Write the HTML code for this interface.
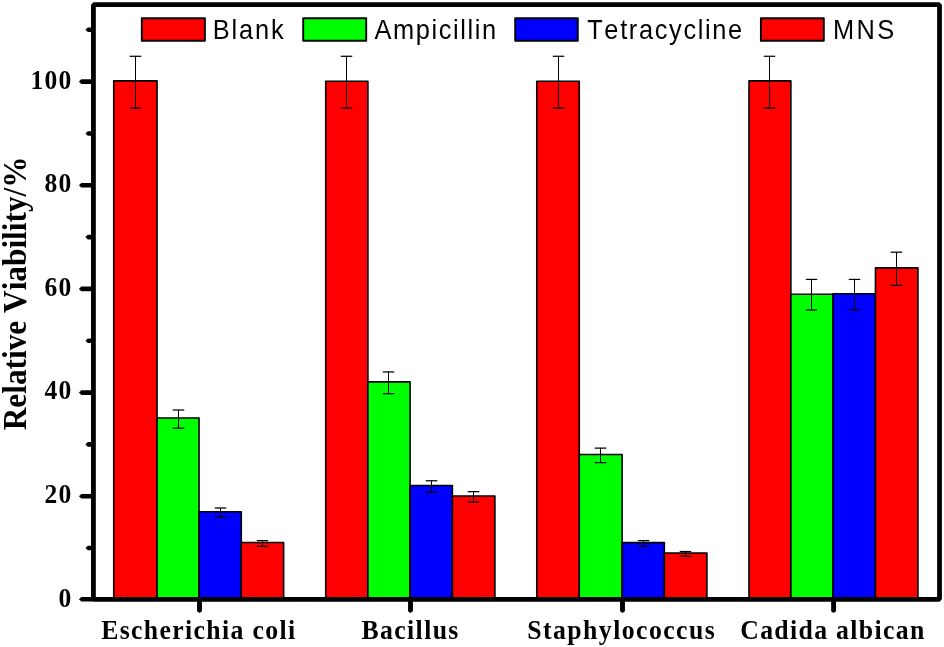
<!DOCTYPE html>
<html><head><meta charset="utf-8"><style>
html,body{margin:0;padding:0;background:#fff;}
svg{display:block;}
.txt{opacity:0.999;}
text{font-kerning:none;}
.tl{font-family:"Liberation Serif",serif;font-weight:bold;font-size:27.5px;}
.cl{font-family:"Liberation Serif",serif;font-weight:bold;font-size:28px;}
.yt{font-family:"Liberation Serif",serif;font-weight:bold;font-size:33px;}
.lg{font-family:"Liberation Sans",sans-serif;font-size:27px;}
</style></head><body>
<svg width="944" height="647" viewBox="0 0 944 647">
<rect x="113.74" y="80.90" width="43.31" height="518.40" fill="#ff0000" stroke="#000" stroke-width="1.6" stroke-linejoin="round"/>
<rect x="157.05" y="417.94" width="41.98" height="181.36" fill="#00ff00" stroke="#000" stroke-width="1.6" stroke-linejoin="round"/>
<rect x="199.03" y="511.80" width="42.24" height="87.50" fill="#0000ff" stroke="#000" stroke-width="1.6" stroke-linejoin="round"/>
<rect x="241.27" y="542.44" width="42.37" height="56.86" fill="#ff0000" stroke="#000" stroke-width="1.6" stroke-linejoin="round"/>
<rect x="325.72" y="81.30" width="42.18" height="518.00" fill="#ff0000" stroke="#000" stroke-width="1.6" stroke-linejoin="round"/>
<rect x="367.90" y="381.91" width="42.16" height="217.39" fill="#00ff00" stroke="#000" stroke-width="1.6" stroke-linejoin="round"/>
<rect x="410.06" y="485.57" width="42.32" height="113.73" fill="#0000ff" stroke="#000" stroke-width="1.6" stroke-linejoin="round"/>
<rect x="452.38" y="495.94" width="42.52" height="103.36" fill="#ff0000" stroke="#000" stroke-width="1.6" stroke-linejoin="round"/>
<rect x="536.78" y="81.30" width="42.48" height="518.00" fill="#ff0000" stroke="#000" stroke-width="1.6" stroke-linejoin="round"/>
<rect x="579.26" y="454.48" width="42.84" height="144.82" fill="#00ff00" stroke="#000" stroke-width="1.6" stroke-linejoin="round"/>
<rect x="622.10" y="542.59" width="42.24" height="56.71" fill="#0000ff" stroke="#000" stroke-width="1.6" stroke-linejoin="round"/>
<rect x="664.34" y="552.95" width="42.56" height="46.35" fill="#ff0000" stroke="#000" stroke-width="1.6" stroke-linejoin="round"/>
<rect x="749.00" y="80.90" width="41.87" height="518.40" fill="#ff0000" stroke="#000" stroke-width="1.6" stroke-linejoin="round"/>
<rect x="790.87" y="294.29" width="42.16" height="305.01" fill="#00ff00" stroke="#000" stroke-width="1.6" stroke-linejoin="round"/>
<rect x="833.03" y="293.80" width="42.43" height="305.50" fill="#0000ff" stroke="#000" stroke-width="1.6" stroke-linejoin="round"/>
<rect x="875.46" y="267.85" width="42.47" height="331.45" fill="#ff0000" stroke="#000" stroke-width="1.6" stroke-linejoin="round"/>
<line x1="135.50" y1="56.28" x2="135.50" y2="108.11" stroke="#000" stroke-width="1.0"/>
<line x1="129.75" y1="56.28" x2="141.25" y2="56.28" stroke="#000" stroke-width="1.25"/>
<line x1="129.75" y1="108.11" x2="141.25" y2="108.11" stroke="#000" stroke-width="1.25"/>
<line x1="178.50" y1="410.02" x2="178.50" y2="428.17" stroke="#000" stroke-width="1.0"/>
<line x1="172.75" y1="410.02" x2="184.25" y2="410.02" stroke="#000" stroke-width="1.25"/>
<line x1="172.75" y1="428.17" x2="184.25" y2="428.17" stroke="#000" stroke-width="1.25"/>
<line x1="220.50" y1="507.98" x2="220.50" y2="516.79" stroke="#000" stroke-width="1.0"/>
<line x1="214.75" y1="507.98" x2="226.25" y2="507.98" stroke="#000" stroke-width="1.25"/>
<line x1="214.75" y1="516.79" x2="226.25" y2="516.79" stroke="#000" stroke-width="1.25"/>
<line x1="262.50" y1="540.64" x2="262.50" y2="546.34" stroke="#000" stroke-width="1.0"/>
<line x1="256.75" y1="540.64" x2="268.25" y2="540.64" stroke="#000" stroke-width="1.25"/>
<line x1="256.75" y1="546.34" x2="268.25" y2="546.34" stroke="#000" stroke-width="1.25"/>
<line x1="346.50" y1="56.28" x2="346.50" y2="108.11" stroke="#000" stroke-width="1.0"/>
<line x1="340.75" y1="56.28" x2="352.25" y2="56.28" stroke="#000" stroke-width="1.25"/>
<line x1="340.75" y1="108.11" x2="352.25" y2="108.11" stroke="#000" stroke-width="1.25"/>
<line x1="388.50" y1="371.93" x2="388.50" y2="393.70" stroke="#000" stroke-width="1.0"/>
<line x1="382.75" y1="371.93" x2="394.25" y2="371.93" stroke="#000" stroke-width="1.25"/>
<line x1="382.75" y1="393.70" x2="394.25" y2="393.70" stroke="#000" stroke-width="1.25"/>
<line x1="431.50" y1="480.77" x2="431.50" y2="492.18" stroke="#000" stroke-width="1.0"/>
<line x1="425.75" y1="480.77" x2="437.25" y2="480.77" stroke="#000" stroke-width="1.25"/>
<line x1="425.75" y1="492.18" x2="437.25" y2="492.18" stroke="#000" stroke-width="1.25"/>
<line x1="473.50" y1="491.66" x2="473.50" y2="502.02" stroke="#000" stroke-width="1.0"/>
<line x1="467.75" y1="491.66" x2="479.25" y2="491.66" stroke="#000" stroke-width="1.25"/>
<line x1="467.75" y1="502.02" x2="479.25" y2="502.02" stroke="#000" stroke-width="1.25"/>
<line x1="558.50" y1="56.28" x2="558.50" y2="108.11" stroke="#000" stroke-width="1.0"/>
<line x1="552.75" y1="56.28" x2="564.25" y2="56.28" stroke="#000" stroke-width="1.25"/>
<line x1="552.75" y1="108.11" x2="564.25" y2="108.11" stroke="#000" stroke-width="1.25"/>
<line x1="600.50" y1="448.12" x2="600.50" y2="462.63" stroke="#000" stroke-width="1.0"/>
<line x1="594.75" y1="448.12" x2="606.25" y2="448.12" stroke="#000" stroke-width="1.25"/>
<line x1="594.75" y1="462.63" x2="606.25" y2="462.63" stroke="#000" stroke-width="1.25"/>
<line x1="643.50" y1="540.64" x2="643.50" y2="546.34" stroke="#000" stroke-width="1.0"/>
<line x1="637.75" y1="540.64" x2="649.25" y2="540.64" stroke="#000" stroke-width="1.25"/>
<line x1="637.75" y1="546.34" x2="649.25" y2="546.34" stroke="#000" stroke-width="1.25"/>
<line x1="685.50" y1="551.52" x2="685.50" y2="556.19" stroke="#000" stroke-width="1.0"/>
<line x1="679.75" y1="551.52" x2="691.25" y2="551.52" stroke="#000" stroke-width="1.25"/>
<line x1="679.75" y1="556.19" x2="691.25" y2="556.19" stroke="#000" stroke-width="1.25"/>
<line x1="769.50" y1="56.28" x2="769.50" y2="108.11" stroke="#000" stroke-width="1.0"/>
<line x1="763.75" y1="56.28" x2="775.25" y2="56.28" stroke="#000" stroke-width="1.25"/>
<line x1="763.75" y1="108.11" x2="775.25" y2="108.11" stroke="#000" stroke-width="1.25"/>
<line x1="811.50" y1="279.41" x2="811.50" y2="309.99" stroke="#000" stroke-width="1.0"/>
<line x1="805.75" y1="279.41" x2="817.25" y2="279.41" stroke="#000" stroke-width="1.25"/>
<line x1="805.75" y1="309.99" x2="817.25" y2="309.99" stroke="#000" stroke-width="1.25"/>
<line x1="854.50" y1="279.41" x2="854.50" y2="309.99" stroke="#000" stroke-width="1.0"/>
<line x1="848.75" y1="279.41" x2="860.25" y2="279.41" stroke="#000" stroke-width="1.25"/>
<line x1="848.75" y1="309.99" x2="860.25" y2="309.99" stroke="#000" stroke-width="1.25"/>
<line x1="896.50" y1="252.20" x2="896.50" y2="285.37" stroke="#000" stroke-width="1.0"/>
<line x1="890.75" y1="252.20" x2="902.25" y2="252.20" stroke="#000" stroke-width="1.25"/>
<line x1="890.75" y1="285.37" x2="902.25" y2="285.37" stroke="#000" stroke-width="1.25"/>
<rect x="93.43" y="4.7" width="846.0699999999999" height="594.5999999999999" fill="none" stroke="#000" stroke-width="4.8" stroke-linejoin="bevel"/>
<polygon points="93.43,597.00 81.30,597.00 78.90,599.30 81.30,601.60 93.43,601.60" fill="#000"/>
<polygon points="93.43,545.77 87.80,545.77 85.40,548.07 87.80,550.37 93.43,550.37" fill="#000"/>
<polygon points="93.43,493.94 81.30,493.94 78.90,496.24 81.30,498.54 93.43,498.54" fill="#000"/>
<polygon points="93.43,442.11 87.80,442.11 85.40,444.41 87.80,446.71 93.43,446.71" fill="#000"/>
<polygon points="93.43,390.28 81.30,390.28 78.90,392.58 81.30,394.88 93.43,394.88" fill="#000"/>
<polygon points="93.43,338.45 87.80,338.45 85.40,340.75 87.80,343.05 93.43,343.05" fill="#000"/>
<polygon points="93.43,286.62 81.30,286.62 78.90,288.92 81.30,291.22 93.43,291.22" fill="#000"/>
<polygon points="93.43,234.79 87.80,234.79 85.40,237.09 87.80,239.39 93.43,239.39" fill="#000"/>
<polygon points="93.43,182.96 81.30,182.96 78.90,185.26 81.30,187.56 93.43,187.56" fill="#000"/>
<polygon points="93.43,131.13 87.80,131.13 85.40,133.43 87.80,135.73 93.43,135.73" fill="#000"/>
<polygon points="93.43,79.30 81.30,79.30 78.90,81.60 81.30,83.90 93.43,83.90" fill="#000"/>
<polygon points="93.43,27.47 87.80,27.47 85.40,29.77 87.80,32.07 93.43,32.07" fill="#000"/>
<polygon points="197.05,599.30 197.05,611.30 199.50,612.90 201.95,611.30 201.95,599.30" fill="#000"/>
<polygon points="408.05,599.30 408.05,611.30 410.50,612.90 412.95,611.30 412.95,599.30" fill="#000"/>
<polygon points="620.05,599.30 620.05,611.30 622.50,612.90 624.95,611.30 624.95,599.30" fill="#000"/>
<polygon points="831.15,599.30 831.15,611.30 833.60,612.90 836.05,611.30 836.05,599.30" fill="#000"/>
<rect x="141.8" y="18.25" width="63.10" height="22.55" fill="#ff0000" stroke="#000" stroke-width="1.9" stroke-linejoin="round"/>
<rect x="303.2" y="18.25" width="63.00" height="22.55" fill="#00ff00" stroke="#000" stroke-width="1.9" stroke-linejoin="round"/>
<rect x="515.2" y="18.25" width="62.60" height="22.55" fill="#0000ff" stroke="#000" stroke-width="1.9" stroke-linejoin="round"/>
<rect x="760.9" y="18.25" width="62.90" height="22.55" fill="#ff0000" stroke="#000" stroke-width="1.9" stroke-linejoin="round"/>
<g class="txt">
<text transform="translate(212.80,38.80) scale(0.94,1)" class="lg" letter-spacing="2.000">Blank</text>
<text transform="translate(374.60,38.80) scale(0.94,1)" class="lg" letter-spacing="1.693">Ampicillin</text>
<text transform="translate(587.20,38.80) scale(0.94,1)" class="lg" letter-spacing="1.768">Tetracycline</text>
<text transform="translate(833.00,38.80) scale(0.94,1)" class="lg" letter-spacing="2.532">MNS</text>
<text transform="translate(101.20,638.50) scale(0.92,1)" class="cl" letter-spacing="1.464">Escherichia coli</text>
<text transform="translate(361.60,638.50) scale(0.92,1)" class="cl" letter-spacing="1.466">Bacillus</text>
<text transform="translate(527.20,638.50) scale(0.92,1)" class="cl" letter-spacing="1.569">Staphylococcus</text>
<text transform="translate(740.20,638.50) scale(0.92,1)" class="cl" letter-spacing="1.452">Cadida albican</text>
<text transform="translate(72.30,606.50) scale(0.93,1)" class="tl" text-anchor="end" letter-spacing="1.200">0</text>
<text transform="translate(72.30,502.90) scale(0.93,1)" class="tl" text-anchor="end" letter-spacing="1.200">20</text>
<text transform="translate(72.30,399.30) scale(0.93,1)" class="tl" text-anchor="end" letter-spacing="1.200">40</text>
<text transform="translate(72.30,295.70) scale(0.93,1)" class="tl" text-anchor="end" letter-spacing="1.200">60</text>
<text transform="translate(72.30,192.10) scale(0.93,1)" class="tl" text-anchor="end" letter-spacing="1.200">80</text>
<text transform="translate(72.30,88.50) scale(0.93,1)" class="tl" text-anchor="end" letter-spacing="1.200">100</text>
<text transform="translate(25.70,430.30) rotate(-90) scale(0.949,1)" class="yt">Relative Viability/%</text>
</g>
</svg>
</body></html>
